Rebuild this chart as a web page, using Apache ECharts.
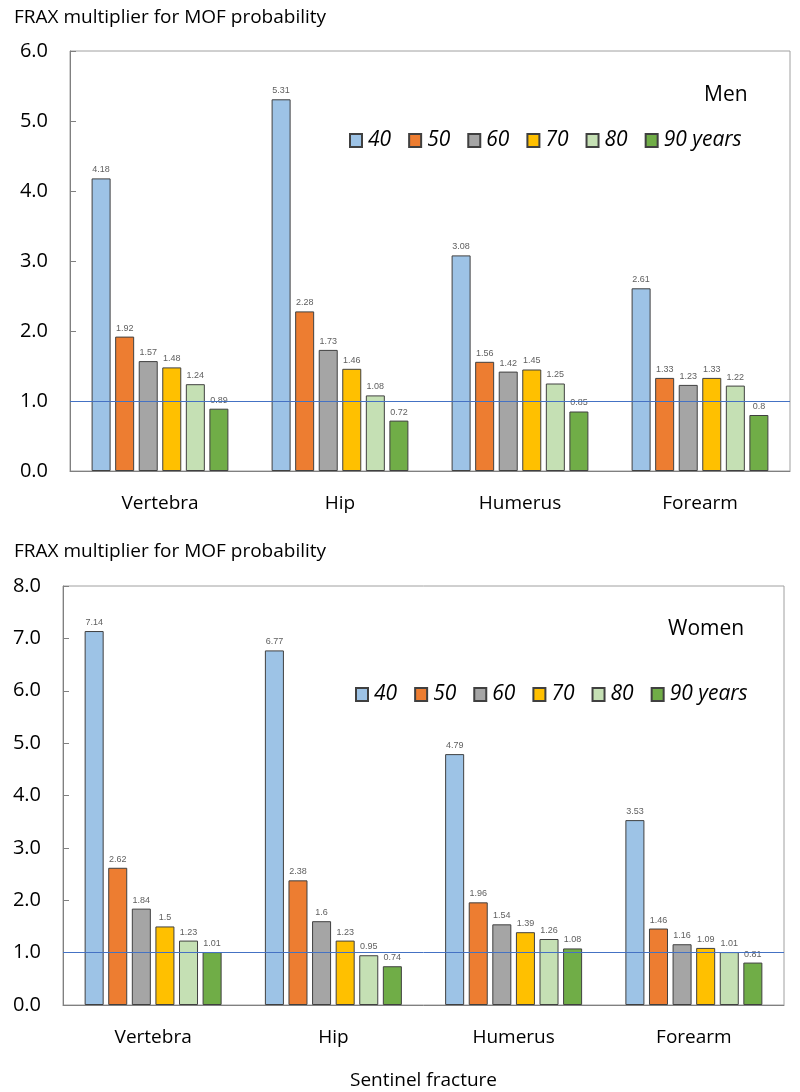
<!DOCTYPE html>
<html>
<head>
<meta charset="utf-8">
<script src="https://cdn.jsdelivr.net/npm/echarts@6/dist/echarts.min.js"></script>
<style>
	body { margin: 0; background: #fff; }
	#chart { width: 800px; height: 1092px; }
</style>
</head>
<body>
<div id="chart"></div>
<script>
// Data
var fractures = ["Vertebra", "Hip", "Humerus", "Forearm"];
var ageGroups = ["40", "50", "60", "70", "80", "90 years"];
var ageColors = ["#9DC3E6", "#ED7D31", "#A5A5A5", "#FFC000", "#C5E0B4", "#70AD47"];

// Men, one array per age group (Vertebra, Hip, Humerus, Forearm)
var men40 = [4.18, 5.31, 3.08, 2.61];
var men50 = [1.92, 2.28, 1.56, 1.33];
var men60 = [1.57, 1.73, 1.42, 1.23];
var men70 = [1.48, 1.46, 1.45, 1.33];
var men80 = [1.24, 1.08, 1.25, 1.22];
var men90 = [0.89, 0.72, 0.85, 0.8];

// Women
var women40 = [7.14, 6.77, 4.79, 3.53];
var women50 = [2.62, 2.38, 1.96, 1.46];
var women60 = [1.84, 1.6, 1.54, 1.16];
var women70 = [1.5, 1.23, 1.39, 1.09];
var women80 = [1.23, 0.95, 1.26, 1.01];
var women90 = [1.01, 0.74, 1.08, 0.81];

var menSeries = [men40, men50, men60, men70, men80, men90];
var womenSeries = [women40, women50, women60, women70, women80, women90];

var refValue = 1;	// FRAX multiplier of 1, drawn as a thin blue line
var refColor = "#4472C4";

var font = "'Open Sans', sans-serif";

// Builds the 6 bar series of one panel
function makeSeries(values, axisIndex) {
	var list = [];
	values.forEach(function (data, i) {
		list.push({
			name: ageGroups[i],
			type: 'bar',
			xAxisIndex: axisIndex,
			yAxisIndex: axisIndex,
			data: data,
			barGap: '24%',
			barCategoryGap: '24%',
			itemStyle: { color: ageColors[i], borderColor: '#404040', borderWidth: 1 },
			label: {
				show: true,
				position: 'top',
				distance: 4,
				fontSize: 9,
				color: '#606060',
				fontFamily: 'Liberation Sans'
			}
		});
	});
	// reference line, as its own empty series so the colour is not mixed up with the bars
	list.push({
		type: 'line',
		xAxisIndex: axisIndex,
		yAxisIndex: axisIndex,
		data: [],
		silent: true,
		z: 10,
		markLine: {
			silent: true,
			symbol: 'none',
			animation: false,
			label: { show: false },
			lineStyle: { color: refColor, width: 1, type: 'solid', opacity: 1 },
			emphasis: { disabled: true },
			data: [{ yAxis: refValue }]
		}
	});
	return list;
}

function makeLegend(left, top) {
	return {
		left: left,
		top: top,
		padding: 0,
		icon: 'rect',
		data: ageGroups,
		itemWidth: 12,
		itemHeight: 13,
		itemGap: 17,
		textStyle: { fontSize: 21, fontStyle: 'italic', color: '#000', fontFamily: font, padding: [0, 0, 0, 1] }
	};
}

function makeY(max) {
	return {
		type: 'value',
		min: 0,
		max: max,
		interval: 1,
		axisLine: { show: true, lineStyle: { color: '#808080' } },
		axisTick: { show: true, inside: true, length: 6, lineStyle: { color: '#808080' } },
		splitLine: { show: false },
		axisLabel: {
			fontSize: 20, color: '#000', fontFamily: font, margin: 22,
			formatter: function (v) { return v.toFixed(1); }
		}
	};
}

function makeX(withName) {
	var ax = {
		type: 'category',
		data: fractures,
		axisLine: { lineStyle: { color: '#808080' } },
		axisTick: { show: false },
		axisLabel: { fontSize: 19, color: '#000', fontFamily: font, margin: 23 }
	};
	if (withName) {
		ax.name = 'Sentinel fracture';
		ax.nameLocation = 'middle';
		ax.nameGap = 66;
		ax.nameTextStyle = { fontSize: 19, color: '#000', fontFamily: font };
	}
	return ax;
}

var chart = echarts.init(document.getElementById('chart'));

var titleStyle = { fontSize: 19, fontWeight: 'normal', color: '#000', fontFamily: font };

var option = {
	animation: false,
	title: [
		{ text: 'FRAX multiplier for MOF probability', left: 9, top: 3, textStyle: titleStyle },
		{ text: 'FRAX multiplier for MOF probability', left: 9, top: 537, textStyle: titleStyle },
		{ text: 'Men', left: 699, top: 80, textStyle: { fontSize: 21, fontWeight: 'normal', color: '#000', fontFamily: font } },
		{ text: 'Women', left: 663, top: 614, textStyle: { fontSize: 21, fontWeight: 'normal', color: '#000', fontFamily: font } }
	],
	legend: [makeLegend(349, 130), makeLegend(355, 684)],
	grid: [
		{ left: 70, right: 10, top: 51, bottom: 621, outerBoundsMode: 'none', show: true, borderColor: '#A0A0A0', borderWidth: 1 },
		{ left: 63, right: 16, top: 586, bottom: 87, outerBoundsMode: 'none', show: true, borderColor: '#A0A0A0', borderWidth: 1 }
	],
	xAxis: [makeX(false), Object.assign(makeX(true), { gridIndex: 1 })],
	yAxis: [makeY(6), Object.assign(makeY(8), { gridIndex: 1 })],
	series: makeSeries(menSeries, 0).concat(makeSeries(womenSeries, 1))
};

chart.setOption(option);
</script>
</body>
</html>
